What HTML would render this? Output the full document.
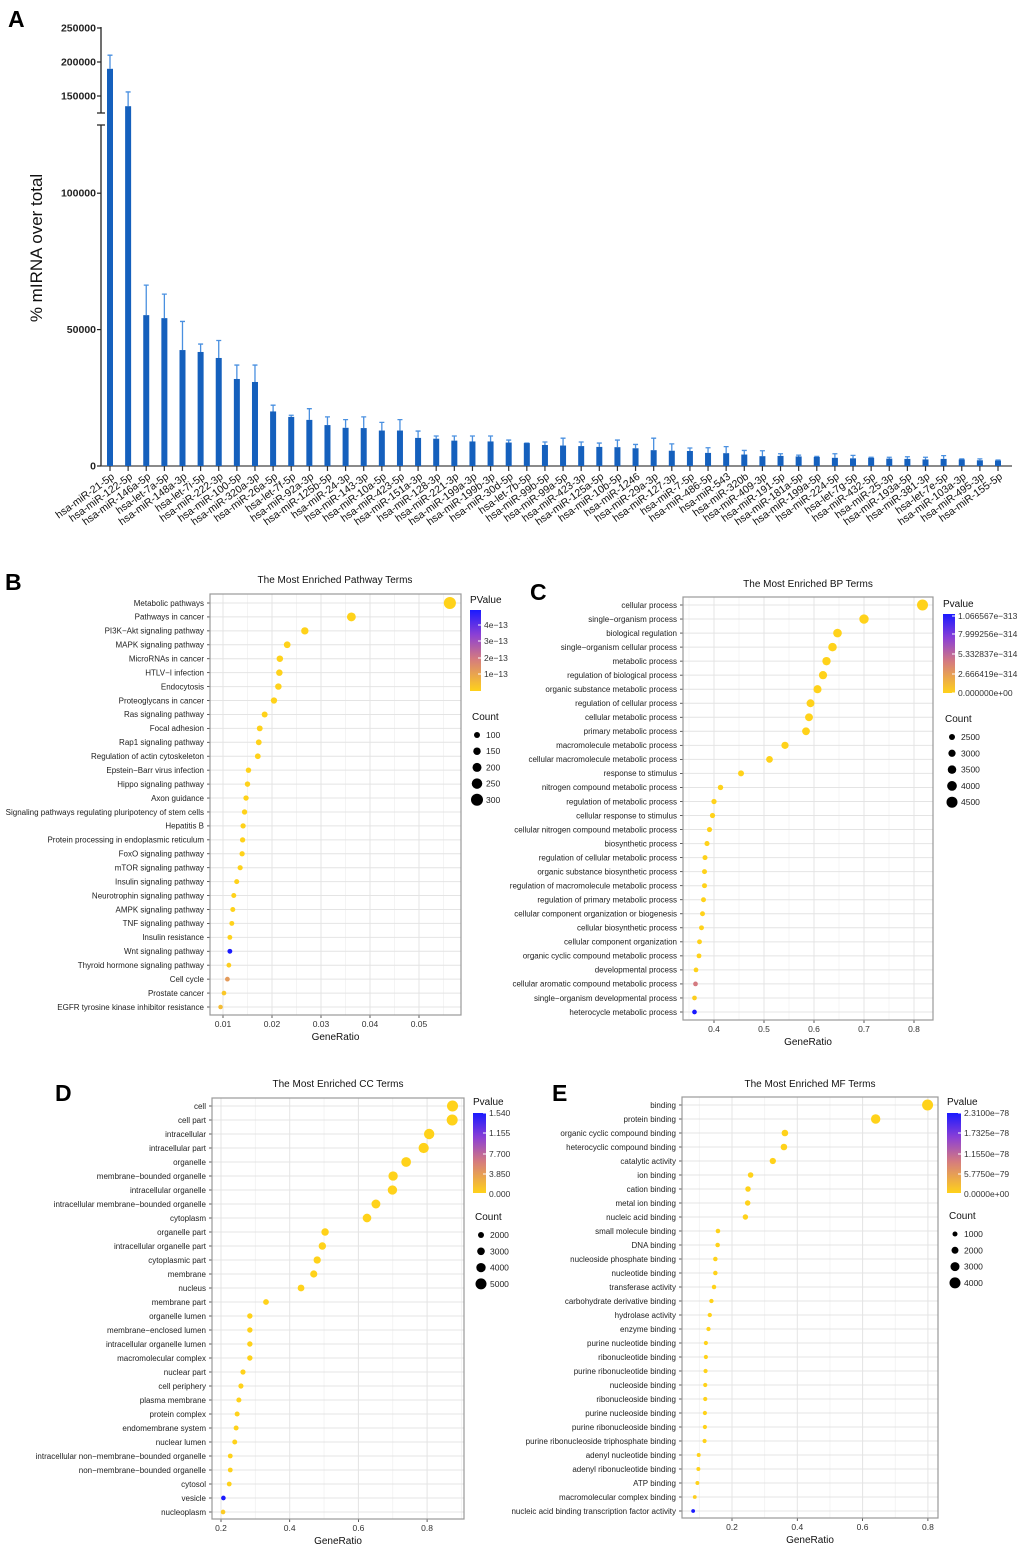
<!DOCTYPE html>
<html><head><meta charset="utf-8"><style>
html,body{margin:0;padding:0;background:#fff;}
svg{display:block;font-family:"Liberation Sans",Arial,sans-serif;}
</style></head><body>
<svg id="fig" width="1020" height="1550" viewBox="0 0 1020 1550" xmlns="http://www.w3.org/2000/svg">
<defs>
<linearGradient id="pg" x1="0" y1="0" x2="0" y2="1">
<stop offset="0" stop-color="#1a1aff"/><stop offset="0.3" stop-color="#8a3fd6"/><stop offset="0.6" stop-color="#d47a80"/><stop offset="1" stop-color="#ffd21a"/>
</linearGradient>
</defs>
<text x="8" y="27" font-size="23" font-weight="bold">A</text>
<text x="5" y="590" font-size="23" font-weight="bold">B</text>
<text x="530" y="600" font-size="23" font-weight="bold">C</text>
<text x="55" y="1101" font-size="23" font-weight="bold">D</text>
<text x="552" y="1101" font-size="23" font-weight="bold">E</text>
<g id="pa"></g>
<g id="pb"></g>
<g id="pc"></g>
<g id="pd"></g>
<g id="pe"></g>
</svg>
<script>
// ---------- Panel A data ----------
const miRNAs = ["hsa-miR-21-5p","hsa-miR-122-5p","hsa-miR-146a-5p","hsa-let-7a-5p","hsa-miR-148a-3p","hsa-let-7i-5p","hsa-miR-222-3p","hsa-miR-100-5p","hsa-miR-320a-3p","hsa-miR-26a-5p","hsa-let-7f-5p","hsa-miR-92a-3p","hsa-miR-125b-5p","hsa-miR-24-3p","hsa-miR-143-3p","hsa-miR-10a-5p","hsa-miR-423-5p","hsa-miR-151a-3p","hsa-miR-128-3p","hsa-miR-221-3p","hsa-miR-199a-3p","hsa-miR-199b-3p","hsa-miR-30d-5p","hsa-let-7b-5p","hsa-miR-99b-5p","hsa-miR-99a-5p","hsa-miR-423-3p","hsa-miR-125a-5p","hsa-miR-10b-5p","hsa-miR-1246","hsa-miR-29a-3p","hsa-miR-127-3p","hsa-miR-7-5p","hsa-miR-486-5p","hsa-miR-543","hsa-miR-320b","hsa-miR-409-3p","hsa-miR-191-5p","hsa-miR-181a-5p","hsa-miR-199a-5p","hsa-miR-224-5p","hsa-let-7g-5p","hsa-miR-432-5p","hsa-miR-25-3p","hsa-miR-193a-5p","hsa-miR-381-3p","hsa-let-7e-5p","hsa-miR-103a-3p","hsa-miR-495-3p","hsa-miR-155-5p"];
const meanVals = [190000,135000,55300,54200,42500,41800,39600,31900,30800,20000,18000,16900,15000,14000,13900,13000,13000,10300,10000,9300,9000,9000,8600,8400,7700,7500,7300,7000,6900,6500,5800,5600,5500,4800,4700,4200,3600,3700,3500,3300,3000,2800,3000,2700,2600,2400,2600,2400,2100,2000];
const errTops = [210000,156000,66300,63000,53000,44700,46000,37000,37000,22300,18600,21000,18000,17000,18000,16000,17000,12800,11000,11000,11000,11000,9500,8400,8800,10200,8800,8400,9500,7900,10200,8100,6600,6700,7100,5700,5600,4500,4000,3500,4500,3900,3200,3200,3400,3200,3800,2600,2600,2200];
const yTicksA = [0,50000,100000,150000,200000,250000];

// ---------- Panel B data ----------
const pathTerms = ["Metabolic pathways","Pathways in cancer","PI3K−Akt signaling pathway","MAPK signaling pathway","MicroRNAs in cancer","HTLV−I infection","Endocytosis","Proteoglycans in cancer","Ras signaling pathway","Focal adhesion","Rap1 signaling pathway","Regulation of actin cytoskeleton","Epstein−Barr virus infection","Hippo signaling pathway","Axon guidance","Signaling pathways regulating pluripotency of stem cells","Hepatitis B","Protein processing in endoplasmic reticulum","FoxO signaling pathway","mTOR signaling pathway","Insulin signaling pathway","Neurotrophin signaling pathway","AMPK signaling pathway","TNF signaling pathway","Insulin resistance","Wnt signaling pathway","Thyroid hormone signaling pathway","Cell cycle","Prostate cancer","EGFR tyrosine kinase inhibitor resistance"];
const pathRatio = [0.0563,0.0362,0.0267,0.0231,0.0216,0.0215,0.0213,0.0204,0.0185,0.0175,0.0173,0.0171,0.0152,0.0150,0.0147,0.0144,0.0141,0.0140,0.0139,0.0135,0.0128,0.0122,0.0120,0.0118,0.0114,0.0114,0.0112,0.0109,0.0102,0.0095];
const pathCount = [304,195,144,125,117,116,115,110,100,95,93,92,82,81,79,78,76,76,75,73,69,66,65,64,62,62,60,59,55,51];
const pathP = [0,0,0,0,0,0,0,0,0,0,0,0,0,0,0,0,0,0,0,0,0,0,0,0,0,1,0.02,0.25,0.05,0.1];
const pathXTicks = [0.01,0.02,0.03,0.04,0.05];
const pathPLabels = ["4e−13","3e−13","2e−13","1e−13"];
const pathCountLegend = [100,150,200,250,300];

// ---------- Panel C data ----------
const bpTerms = ["cellular process","single−organism process","biological regulation","single−organism cellular process","metabolic process","regulation of biological process","organic substance metabolic process","regulation of cellular process","cellular metabolic process","primary metabolic process","macromolecule metabolic process","cellular macromolecule metabolic process","response to stimulus","nitrogen compound metabolic process","regulation of metabolic process","cellular response to stimulus","cellular nitrogen compound metabolic process","biosynthetic process","regulation of cellular metabolic process","organic substance biosynthetic process","regulation of macromolecule metabolic process","regulation of primary metabolic process","cellular component organization or biogenesis","cellular biosynthetic process","cellular component organization","organic cyclic compound metabolic process","developmental process","cellular aromatic compound metabolic process","single−organism developmental process","heterocycle metabolic process"];
const bpRatio = [0.817,0.700,0.647,0.637,0.625,0.618,0.607,0.593,0.590,0.584,0.542,0.511,0.454,0.413,0.400,0.397,0.391,0.386,0.382,0.381,0.381,0.379,0.377,0.375,0.371,0.370,0.364,0.363,0.361,0.361];
const bpCount = [4494,3850,3560,3500,3440,3400,3340,3260,3245,3210,2980,2810,2500,2270,2200,2180,2150,2120,2100,2095,2095,2085,2070,2060,2040,2035,2000,1995,1985,1985];
const bpP = [0,0,0,0,0,0,0,0,0,0,0,0,0,0,0,0,0,0,0,0,0,0,0,0,0,0,0,0.4,0.02,1];
const bpXTicks = [0.4,0.5,0.6,0.7,0.8];
const bpPLabels = ["1.066567e−313","7.999256e−314","5.332837e−314","2.666419e−314","0.000000e+00"];
const bpCountLegend = [2500,3000,3500,4000,4500];

// ---------- Panel D data ----------
const ccTerms = ["cell","cell part","intracellular","intracellular part","organelle","membrane−bounded organelle","intracellular organelle","intracellular membrane−bounded organelle","cytoplasm","organelle part","intracellular organelle part","cytoplasmic part","membrane","nucleus","membrane part","organelle lumen","membrane−enclosed lumen","intracellular organelle lumen","macromolecular complex","nuclear part","cell periphery","plasma membrane","protein complex","endomembrane system","nuclear lumen","intracellular non−membrane−bounded organelle","non−membrane−bounded organelle","cytosol","vesicle","nucleoplasm"];
const ccRatio = [0.874,0.873,0.806,0.790,0.739,0.701,0.699,0.651,0.625,0.503,0.495,0.480,0.470,0.433,0.331,0.284,0.284,0.284,0.284,0.264,0.258,0.252,0.247,0.244,0.240,0.227,0.227,0.224,0.207,0.206];
const ccCount = [5025,5020,4635,4540,4250,4030,4020,3745,3595,2890,2845,2760,2700,2490,1900,1635,1635,1635,1635,1520,1485,1450,1420,1400,1380,1305,1305,1290,1190,1185];
const ccP = [0,0,0,0,0,0,0,0,0,0,0,0,0,0,0,0,0,0,0,0,0,0,0,0,0,0,0,0,1,0.03];
const ccXTicks = [0.2,0.4,0.6,0.8];
const ccPLabels = ["1.540","1.155","7.700","3.850","0.000"];
const ccCountLegend = [2000,3000,4000,5000];

// ---------- Panel E data ----------
const mfTerms = ["binding","protein binding","organic cyclic compound binding","heterocyclic compound binding","catalytic activity","ion binding","cation binding","metal ion binding","nucleic acid binding","small molecule binding","DNA binding","nucleoside phosphate binding","nucleotide binding","transferase activity","carbohydrate derivative binding","hydrolase activity","enzyme binding","purine nucleotide binding","ribonucleotide binding","purine ribonucleotide binding","nucleoside binding","ribonucleoside binding","purine nucleoside binding","purine ribonucleoside binding","purine ribonucleoside triphosphate binding","adenyl nucleotide binding","adenyl ribonucleotide binding","ATP binding","macromolecular complex binding","nucleic acid binding transcription factor activity"];
const mfRatio = [0.799,0.640,0.362,0.359,0.325,0.257,0.249,0.248,0.241,0.157,0.156,0.149,0.149,0.145,0.137,0.132,0.128,0.120,0.120,0.119,0.118,0.118,0.117,0.117,0.116,0.098,0.097,0.094,0.086,0.081];
const mfCount = [3995,3200,1810,1795,1625,1285,1245,1240,1205,785,780,745,745,725,685,660,640,600,600,595,590,590,585,585,580,490,485,470,430,405];
const mfP = [0,0,0,0,0,0,0,0,0,0,0,0,0,0,0,0,0,0,0,0,0,0,0,0,0,0,0,0,0.02,1];
const mfXTicks = [0.2,0.4,0.6,0.8];
const mfPLabels = ["2.3100e−78","1.7325e−78","1.1550e−78","5.7750e−79","0.0000e+00"];
const mfCountLegend = [1000,2000,3000,4000];

const NS = "http://www.w3.org/2000/svg";
function mk(parent, tag, attrs, txt){
  const e = document.createElementNS(NS, tag);
  for (const k in attrs) e.setAttribute(k, attrs[k]);
  if (txt !== undefined) e.textContent = txt;
  parent.appendChild(e);
  return e;
}

// ---------- Draw Panel A ----------
(function(){
  const g = document.getElementById('pa');
  const x0 = 110, step = (998 - 110) / (miRNAs.length - 1);
  const xA = i => x0 + i * step;
  const yA = v => v <= 125000 ? 466 - v * 341 / 125000 : 113 - (v - 125000) * 85 / 125000;
  let e = mk(g, 'line', {x1:101, y1:466, x2:101, y2:125, stroke:'#222', 'stroke-width':1.3});
  
  
  e = mk(g, 'line', {x1:101, y1:113, x2:101, y2:27, stroke:'#222', 'stroke-width':1.3});
  
  
  e = mk(g, 'path', {d:'M97 125 H105 M97 113 H105', stroke:'#222', 'stroke-width':1.3});
  
  
  e = mk(g, 'line', {x1:101, y1:466, x2:1012, y2:466, stroke:'#444', 'stroke-width':1.3});
  
  
  yTicksA.forEach(v => {
    const y = yA(v);
    const t = mk(g, 'line', {x1:97, y1:y, x2:101, y2:y, stroke:'#222', 'stroke-width':1.2});
    
    
    const l = mk(g, 'text', {x:96, y:y + 3.5, 'font-size':10.5, 'font-weight':'bold', 'text-anchor':'end', fill:'#222'}, String(v));
    
    
  });
  const yt = mk(g, 'text', {x:0, y:0, 'font-size':17, 'text-anchor':'middle', fill:'#111', transform:'translate(42,248) rotate(-90)'}, '% mIRNA over total');
  
  
  miRNAs.forEach((name, i) => {
    const x = xA(i);
    const tk = mk(g, 'line', {x1:x, y1:466, x2:x, y2:471, stroke:'#333', 'stroke-width':1.2});
    
    
    const eb = mk(g, 'path', {d:`M${x} ${yA(meanVals[i])} V${yA(errTops[i])} M${x-2.5} ${yA(errTops[i])} H${x+2.5}`, stroke:'#4a90e0', 'stroke-width':1.3, fill:'none'});
    
    
    const b = mk(g, 'rect', {x:x - 3, y:yA(meanVals[i]), width:6, height:466 - yA(meanVals[i]), fill:'#1560bd'});
    
    
    const lb = mk(g, 'text', {x:0, y:0, 'font-size':10.5, 'text-anchor':'end', fill:'#111', transform:`translate(${x+5},478) rotate(-36)`}, name);
    
    
  });
})();

// ---------- Dot plot ----------
function colorOf(p){
  const stops = [[0,[255,210,26]],[0.4,[212,122,128]],[0.7,[138,63,214]],[1,[26,26,255]]];
  for (let i = 1; i < stops.length; i++){
    if (p <= stops[i][0]){
      const a = stops[i-1], b = stops[i], t = (p - a[0]) / (b[0] - a[0]);
      const c = a[1].map((v, k) => Math.round(v + (b[1][k] - v) * t));
      return `rgb(${c[0]},${c[1]},${c[2]})`;
    }
  }
  return 'rgb(26,26,255)';
}
function dotPlot(cfg){
  const g = document.getElementById(cfg.id);
  const B = cfg.box;
  const n = cfg.terms.length;
  const yR = i => cfg.row0 + i * (cfg.row1 - cfg.row0) / (n - 1);
  const xR = v => cfg.px0 + (v - cfg.v0) * cfg.pxPer;
  const rR = c => cfg.r0 + c * cfg.rk;
  let e = mk(g, 'text', {x:cfg.titleX, y:cfg.titleY, 'font-size':10, 'text-anchor':'middle', fill:'#111'}, cfg.title);
  
  
  e = mk(g, 'rect', {x:B[0], y:B[1], width:B[2]-B[0], height:B[3]-B[1], fill:'#fff'});
  
  
  const tk = cfg.xticks, dt = tk[1] - tk[0];
  for (let v = tk[0] - dt * 1.5; v <= tk[tk.length-1] + dt; v += dt){
    const x = xR(v);
    if (x > B[0] && x < B[2]){
      e = mk(g, 'line', {x1:x, y1:B[1], x2:x, y2:B[3], stroke:'#f2f2f2', 'stroke-width':0.8});
      
      
    }
  }
  tk.forEach(v => {
    const x = xR(v);
    e = mk(g, 'line', {x1:x, y1:B[1], x2:x, y2:B[3], stroke:'#e4e4e4', 'stroke-width':1});
    
    
    e = mk(g, 'line', {x1:x, y1:B[3], x2:x, y2:B[3]+3, stroke:'#333', 'stroke-width':0.8});
    
    
    e = mk(g, 'text', {x:x, y:B[3]+12, 'font-size':8.5, 'text-anchor':'middle', fill:'#333'}, String(v));
    
    
  });
  cfg.terms.forEach((t, i) => {
    const y = yR(i);
    e = mk(g, 'line', {x1:B[0], y1:y, x2:B[2], y2:y, stroke:'#e4e4e4', 'stroke-width':1});
    
    
    e = mk(g, 'line', {x1:B[0]-3, y1:y, x2:B[0], y2:y, stroke:'#333', 'stroke-width':0.8});
    
    
    e = mk(g, 'text', {x:B[0]-6, y:y+2.8, 'font-size':8, 'text-anchor':'end', fill:'#222'}, t);
    
    
  });
  cfg.terms.forEach((t, i) => {
    e = mk(g, 'circle', {cx:xR(cfg.ratio[i]), cy:yR(i), r:rR(cfg.count[i]), fill:colorOf(cfg.p[i])});
    
    
  });
  e = mk(g, 'rect', {x:B[0], y:B[1], width:B[2]-B[0], height:B[3]-B[1], fill:'none', stroke:'#999', 'stroke-width':1.2});
  
  
  e = mk(g, 'text', {x:(B[0]+B[2])/2, y:B[3]+25, 'font-size':10, 'text-anchor':'middle', fill:'#111'}, 'GeneRatio');
  
  
  const L = cfg.leg;
  e = mk(g, 'text', {x:L.x, y:L.pTitleY, 'font-size':10, fill:'#111'}, cfg.pTitle);
  
  
  e = mk(g, 'rect', {x:L.x, y:L.barY0, width:L.barW, height:L.barY1-L.barY0, fill:'url(#pg)'});
  
  
  cfg.pLabels.forEach((lab, i) => {
    const y = L.pLabY[i];
    e = mk(g, 'line', {x1:L.x+L.barW-3, y1:y, x2:L.x+L.barW, y2:y, stroke:'#fff', 'stroke-width':1});
    
    
    e = mk(g, 'text', {x:L.x+L.barW+3, y:y+3, 'font-size':8.5, fill:'#333'}, lab);
    
    
  });
  e = mk(g, 'text', {x:L.x+2, y:L.cTitleY, 'font-size':10, fill:'#111'}, 'Count');
  
  
  cfg.countLeg.forEach((c, i) => {
    const y = L.cY0 + i * L.cStep;
    e = mk(g, 'circle', {cx:L.dotX, cy:y, r:rR(c), fill:'#000'});
    
    
    e = mk(g, 'text', {x:L.dotX+9, y:y+3, 'font-size':8.5, fill:'#222'}, String(c));
    
    
  });
}

dotPlot({id:'pb', title:'The Most Enriched Pathway Terms', titleX:335, titleY:583, box:[210,594,461,1015], row0:603, row1:1007,
  px0:223, v0:0.01, pxPer:4900, r0:1.5, rk:0.015, xticks:pathXTicks, terms:pathTerms, ratio:pathRatio, count:pathCount, p:pathP,
  pTitle:'PValue', pLabels:pathPLabels, countLeg:pathCountLegend,
  leg:{x:470, pTitleY:603, barY0:610, barY1:691, barW:11, pLabY:[625,641,658,674], cTitleY:720, cY0:735, cStep:16.2, dotX:477}});
dotPlot({id:'pc', title:'The Most Enriched BP Terms', titleX:808, titleY:587, box:[683,597,933,1020], row0:605, row1:1012,
  px0:714, v0:0.4, pxPer:500, r0:-0.125, rk:0.00125, xticks:bpXTicks, terms:bpTerms, ratio:bpRatio, count:bpCount, p:bpP,
  pTitle:'Pvalue', pLabels:bpPLabels, countLeg:bpCountLegend,
  leg:{x:943, pTitleY:607, barY0:614, barY1:693, barW:12, pLabY:[616,634,654,674,693], cTitleY:722, cY0:737, cStep:16.3, dotX:952}});
dotPlot({id:'pd', title:'The Most Enriched CC Terms', titleX:338, titleY:1087, box:[212,1098,464,1519], row0:1106, row1:1512,
  px0:221, v0:0.2, pxPer:343.5, r0:1.33, rk:0.000833, xticks:ccXTicks, terms:ccTerms, ratio:ccRatio, count:ccCount, p:ccP,
  pTitle:'Pvalue', pLabels:ccPLabels, countLeg:ccCountLegend,
  leg:{x:473, pTitleY:1105, barY0:1113, barY1:1193, barW:13, pLabY:[1113,1133,1154,1174,1194], cTitleY:1220, cY0:1235, cStep:16.3, dotX:481}});
dotPlot({id:'pe', title:'The Most Enriched MF Terms', titleX:810, titleY:1087, box:[682,1097,938,1518], row0:1105, row1:1511,
  px0:732, v0:0.2, pxPer:326.5, r0:1.5, rk:0.001, xticks:mfXTicks, terms:mfTerms, ratio:mfRatio, count:mfCount, p:mfP,
  pTitle:'Pvalue', pLabels:mfPLabels, countLeg:mfCountLegend,
  leg:{x:947, pTitleY:1105, barY0:1113, barY1:1193, barW:14, pLabY:[1113,1133,1154,1174,1194], cTitleY:1219, cY0:1234, cStep:16.3, dotX:955}});
</script>
</body></html>
